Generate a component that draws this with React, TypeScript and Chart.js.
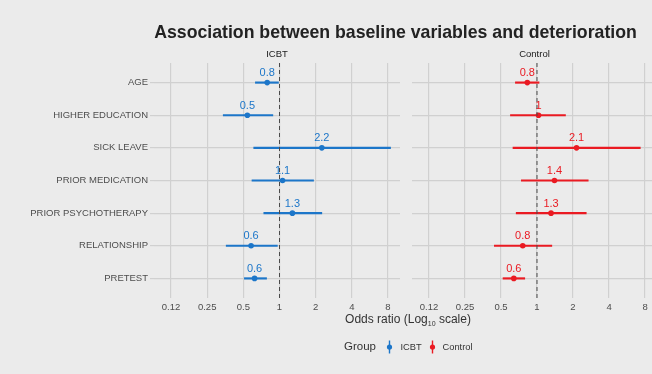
import React, { useEffect, useRef } from "react";
import { Chart, registerables } from "chart.js";
Chart.register(...registerables);

// ---- data ----
const categories = ["AGE", "HIGHER EDUCATION", "SICK LEAVE", "PRIOR MEDICATION", "PRIOR PSYCHOTHERAPY", "RELATIONSHIP", "PRETEST"];
const icbtOR = [0.79, 0.54, 2.25, 1.06, 1.28, 0.58, 0.62];
const icbtLow = [0.63, 0.34, 0.61, 0.59, 0.74, 0.36, 0.51];
const icbtHigh = [0.98, 0.88, 8.4, 1.92, 2.25, 0.96, 0.78];
const icbtLabels = ["0.8", "0.5", "2.2", "1.1", "1.3", "0.6", "0.6"];
const controlOR = [0.83, 1.03, 2.14, 1.4, 1.31, 0.76, 0.64];
const controlLow = [0.66, 0.6, 0.63, 0.74, 0.67, 0.44, 0.52];
const controlHigh = [1.04, 1.73, 7.3, 2.68, 2.58, 1.33, 0.79];
const controlLabels = ["0.8", "1", "2.1", "1.4", "1.3", "0.8", "0.6"];
const xTickValues = [0.125, 0.25, 0.5, 1, 2, 4, 8];
const xTickLabels = ["0.12", "0.25", "0.5", "1", "2", "4", "8"];
const groups = ["ICBT", "Control"];
const referenceOR = 1;

const COLORS = ["#1c76c9", "#ea1a22"];
const BG = "#ebebeb";
const GRID = "#d0d0d0";
const FONT = '"Liberation Sans", Arial, sans-serif';

const X_MIN = 0.0902;
const X_MAX = 10.07;

function makeConfig(panel: number, isFirst: boolean, extraPlugin: any) {
  const or = panel === 0 ? icbtOR : controlOR;
  const lo = panel === 0 ? icbtLow : controlLow;
  const hi = panel === 0 ? icbtHigh : controlHigh;
  const labels = panel === 0 ? icbtLabels : controlLabels;
  const color = COLORS[panel];

  const panelPlugin = {
    id: "panelDecor" + panel,
    afterDatasetsDraw(chart: any) {
      const { ctx, chartArea, scales } = chart;
      const xs = scales.x;
      const ys = scales.y;
      ctx.save();
      // reference line
      const rx = xs.getPixelForValue(referenceOR);
      ctx.strokeStyle = "#4a4a4a";
      ctx.lineWidth = 1;
      ctx.setLineDash([4, 3]);
      ctx.beginPath();
      ctx.moveTo(rx, chartArea.top);
      ctx.lineTo(rx, chartArea.bottom);
      ctx.stroke();
      ctx.setLineDash([]);
      // value labels
      ctx.fillStyle = color;
      ctx.font = `11px ${FONT}`;
      ctx.textAlign = "center";
      ctx.textBaseline = "alphabetic";
      or.forEach((v, i) => {
        ctx.fillText(labels[i], xs.getPixelForValue(v), ys.getPixelForValue(i) - 6.5);
      });
      // strip label
      ctx.fillStyle = "#1a1a1a";
      ctx.font = `9.5px ${FONT}`;
      ctx.textBaseline = "middle";
      ctx.fillText(groups[panel], (chartArea.left + chartArea.right) / 2, 54);
      ctx.restore();
    },
  };

  return {
    type: "bar" as const,
    data: {
      datasets: [
        {
          type: "scatter" as const,
          label: groups[panel],
          data: or.map((v, i) => ({ x: v, y: i })),
          pointRadius: 2.8,
          pointHoverRadius: 2.8,
          backgroundColor: color,
          borderWidth: 0,
          order: 0,
        },
        {
          type: "bar" as const,
          label: groups[panel] + " CI",
          indexAxis: "y" as const,
          data: lo.map((l, i) => ({ y: i, x: [l, hi[i]] })),
          backgroundColor: color,
          borderWidth: 0,
          barThickness: 1.5,
          order: 1,
        },
      ],
    },
    options: {
      responsive: false,
      animation: false as const,
      devicePixelRatio: 1,
      layout: { padding: isFirst ? { top: 63, right: 252, left: 0, bottom: 0 } : { top: 63, right: 3, left: 0, bottom: 0 } },
      plugins: { legend: { display: false }, tooltip: { enabled: false }, title: { display: false } },
      scales: {
        x: {
          type: "logarithmic" as const,
          min: X_MIN,
          max: X_MAX,
          offset: false,
          beginAtZero: false,
          border: { display: false },
          grid: { color: GRID, lineWidth: 1.2, drawTicks: false, offset: false },
          afterBuildTicks(s: any) {
            s.ticks = xTickValues.map((v) => ({ value: v }));
          },
          afterFit(s: any) {
            s.height = 76;
          },
          ticks: {
            autoSkip: false,
            maxRotation: 0,
            padding: 4,
            color: "#4d4d4d",
            font: { family: FONT, size: 9.5 },
            callback: (_v: any, idx: number) => xTickLabels[idx],
          },
        },
        y: {
          type: "linear" as const,
          min: -0.6,
          max: 6.6,
          reverse: true,
          offset: false,
          beginAtZero: false,
          border: { display: false },
          grid: { color: GRID, lineWidth: 1.2, offset: false, drawTicks: isFirst, tickLength: 4 },
          afterBuildTicks(s: any) {
            s.ticks = categories.map((_c, i) => ({ value: i }));
          },
          afterFit(s: any) {
            s.width = isFirst ? 154 : 412;
          },
          ticks: {
            display: isFirst,
            autoSkip: false,
            padding: 2,
            color: "#4d4d4d",
            font: { family: FONT, size: 9.5 },
            callback: (v: any) => categories[v] ?? "",
          },
        },
      },
    },
    plugins: extraPlugin ? [panelPlugin, extraPlugin] : [panelPlugin],
  };
}

const decorPlugin = {
  id: "decor",
  afterDraw(chart: any) {
    const { ctx } = chart;
    ctx.save();
    // title
    ctx.fillStyle = "#222222";
    ctx.font = `bold 17.7px ${FONT}`;
    ctx.textAlign = "center";
    ctx.textBaseline = "alphabetic";
    ctx.fillText("Association between baseline variables and deterioration", 395.5, 38);
    // x axis title with subscript
    const cx = 408;
    const base = 323;
    const p1 = "Odds ratio (Log";
    const sub = "10";
    const p2 = " scale)";
    ctx.fillStyle = "#333333";
    ctx.font = `12px ${FONT}`;
    const w1 = ctx.measureText(p1).width;
    const w3 = ctx.measureText(p2).width;
    ctx.font = `7px ${FONT}`;
    const w2 = ctx.measureText(sub).width;
    const start = cx - (w1 + w2 + w3) / 2;
    ctx.textAlign = "left";
    ctx.font = `12px ${FONT}`;
    ctx.fillText(p1, start, base);
    ctx.font = `7px ${FONT}`;
    ctx.fillText(sub, start + w1, base + 3);
    ctx.font = `12px ${FONT}`;
    ctx.fillText(p2, start + w1 + w2, base);
    // legend
    const ly = 347;
    ctx.textBaseline = "middle";
    ctx.fillStyle = "#333333";
    ctx.font = `11.5px ${FONT}`;
    ctx.fillText("Group", 344, ly);
    const items = [
      { x: 389.5, tx: 400.5 },
      { x: 432.5, tx: 442.5 },
    ];
    items.forEach((it, i) => {
      ctx.strokeStyle = COLORS[i];
      ctx.fillStyle = COLORS[i];
      ctx.lineWidth = 1.4;
      ctx.beginPath();
      ctx.moveTo(it.x, ly - 6.5);
      ctx.lineTo(it.x, ly + 6.5);
      ctx.stroke();
      ctx.beginPath();
      ctx.arc(it.x, ly, 2.6, 0, Math.PI * 2);
      ctx.fill();
      ctx.fillStyle = "#333333";
      ctx.font = `9.3px ${FONT}`;
      ctx.fillText(groups[i], it.tx, ly);
    });
    ctx.restore();
  },
};

export default function App() {
  const refA = useRef<HTMLCanvasElement>(null);
  const refB = useRef<HTMLCanvasElement>(null);
  useEffect(() => {
    document.body.style.margin = "0";
    const a = new Chart(refA.current as HTMLCanvasElement, makeConfig(0, true, decorPlugin) as any);
    const b = new Chart(refB.current as HTMLCanvasElement, makeConfig(1, false, null) as any);
    return () => {
      a.destroy();
      b.destroy();
    };
  }, []);
  return (
    <div
      style={{
        position: "fixed",
        left: 0,
        top: 0,
        width: 652,
        height: 374,
        overflow: "hidden",
        background: BG,
      }}
    >
      <canvas ref={refA} width={652} height={374} style={{ position: "absolute", left: 0, top: 0, width: 652, height: 374 }} />
      <canvas ref={refB} width={660} height={374} style={{ position: "absolute", left: 0, top: 0, width: 660, height: 374 }} />
    </div>
  );
}
